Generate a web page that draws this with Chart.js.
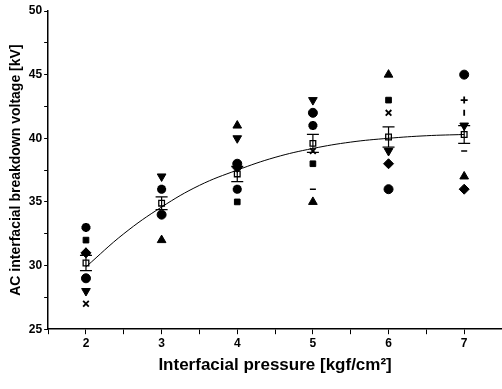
<!DOCTYPE html>
<html>
<head>
<meta charset="utf-8">
<script src="https://cdn.jsdelivr.net/npm/chart.js@4"></script>
<style>
  body { margin: 0; background: #fff; overflow: hidden; }
</style>
</head>
<body>
<canvas id="myChart" width="502" height="389"></canvas>
<script>
// pressure values [kgf/cm2]
const pressure = [2, 3, 4, 5, 6, 7];

// individual breakdown voltages [kV], one array per marker type (null = none)
const circleV   = [29, 34, 38, 42, 36, 45];
const squareV   = [32, null, 35, 38, 43, null];
const triUpV    = [31, 32, 41, 35, 45, 37];
const triDownV  = [28, 37, 40, 43, 39, 41];
const diamondV  = [31, null, 37.7, null, 38, 36];
const starV     = [33, 36, 36, 41, null, null];
const crossV    = [27, null, null, 39, 42, null];
const plusV     = [null, null, null, null, null, 43];
const dashV     = [null, null, null, 36, null, 39];
const barV      = [null, null, null, null, null, 42];

// mean and error
const meanV = [30.2, 34.9, 37.2, 39.6, 40.1, 40.3];
const errV  = [0.6, 0.5, 0.6, 0.7, 0.8, 0.7];

// fitted curve
const fitX = [2, 2.5, 3, 3.5, 4, 4.5, 5, 5.5, 6, 6.5, 7];
const fitY = [29.9, 32.5, 34.6, 36.3, 37.5, 38.5, 39.2, 39.7, 40.0, 40.2, 40.3];

const yTicks = [25, 30, 35, 40, 45, 50];
const xTicks = [2, 3, 4, 5, 6, 7];

function pts(vals) {
  const out = [];
  vals.forEach((v, i) => { if (v !== null) out.push({ x: pressure[i], y: v }); });
  return out;
}

function markers(vals, style, opts) {
  return Object.assign({
    type: 'scatter',
    data: pts(vals),
    pointStyle: style,
    pointRadius: 4.5,
    pointBackgroundColor: '#000',
    pointBorderColor: '#000',
    pointBorderWidth: 1,
    showLine: false
  }, opts || {});
}

const errorBars = {
  id: 'errorBars',
  afterDatasetsDraw(chart) {
    const ctx = chart.ctx;
    const xs = chart.scales.x, ys = chart.scales.y;
    ctx.save();
    ctx.strokeStyle = '#000';
    ctx.lineWidth = 1.2;
    meanV.forEach((m, i) => {
      const px = xs.getPixelForValue(pressure[i]);
      const top = ys.getPixelForValue(m + errV[i]);
      const bot = ys.getPixelForValue(m - errV[i]);
      ctx.beginPath();
      ctx.moveTo(px, top); ctx.lineTo(px, bot);
      ctx.moveTo(px - 6, top); ctx.lineTo(px + 6, top);
      ctx.moveTo(px - 6, bot); ctx.lineTo(px + 6, bot);
      ctx.stroke();
    });
    ctx.restore();
  }
};

const font = { family: '"Liberation Sans", Arial, sans-serif', weight: 'bold' };

new Chart('myChart', {
  data: {
    datasets: [
      {
        type: 'line',
        data: fitX.map((x, i) => ({ x: x, y: fitY[i] })),
        borderColor: '#000',
        borderWidth: 1,
        pointRadius: 0,
        tension: 0.4,
        fill: false
      },
      markers(circleV, 'circle'),
      markers(squareV, 'rect', { pointRadius: 4 }),
      markers(triUpV, 'triangle', { pointRadius: 5 }),
      markers(triDownV, 'triangle', { pointRadius: 5, rotation: 180 }),
      markers(diamondV, 'rectRot', { pointRadius: 5 }),
      markers(starV, 'star', { pointRadius: 4.5, pointBorderWidth: 3 }),
      markers(crossV, 'crossRot', { pointRadius: 4, pointBorderWidth: 1.8 }),
      markers(plusV, 'cross', { pointRadius: 3.5, pointBorderWidth: 1.8 }),
      markers(dashV, 'line', { pointRadius: 3, pointBorderWidth: 1.5 }),
      markers(barV, 'line', { pointRadius: 3, pointBorderWidth: 1.8, rotation: 90 }),
      markers(meanV, 'rect', {
        pointRadius: 4,
        pointBackgroundColor: '#fff',
        pointBorderWidth: 1.3
      })
    ]
  },
  options: {
    responsive: false,
    animation: false,
    layout: { autoPadding: false, padding: { top: 11, right: 0, left: 8, bottom: 13 } },
    plugins: { legend: { display: false }, tooltip: { enabled: false } },
    scales: {
      x: {
        type: 'linear',
        min: 1.5,
        max: 7.5,
        afterFit: s => { s.paddingRight = 0; },
        border: { color: '#000', width: 1.5 },
        grid: { drawOnChartArea: false, color: '#000', tickLength: 5 },
        ticks: {
          stepSize: 0.5,
          color: '#000',
          font: Object.assign({ size: 12 }, font),
          padding: 2,
          maxRotation: 0,
          callback: v => xTicks.includes(v) ? String(v) : ''
        },
        title: {
          display: true,
          text: 'Interfacial pressure [kgf/cm²]',
          color: '#000',
          font: Object.assign({ size: 17 }, font),
          padding: { top: 3, bottom: 0 }
        }
      },
      y: {
        type: 'linear',
        min: 25,
        max: 50,
        border: { color: '#000', width: 1.5 },
        grid: { drawOnChartArea: false, color: '#000', tickLength: 4 },
        ticks: {
          stepSize: 2.5,
          color: '#000',
          font: Object.assign({ size: 12 }, font),
          padding: 2,
          callback: v => yTicks.includes(v) ? String(v) : ''
        },
        title: {
          display: true,
          text: 'AC interfacial breakdown voltage [kV]',
          color: '#000',
          font: Object.assign({ size: 14 }, font),
          padding: { top: 0, bottom: 2 }
        }
      }
    }
  },
  plugins: [errorBars]
});
</script>
</body>
</html>
